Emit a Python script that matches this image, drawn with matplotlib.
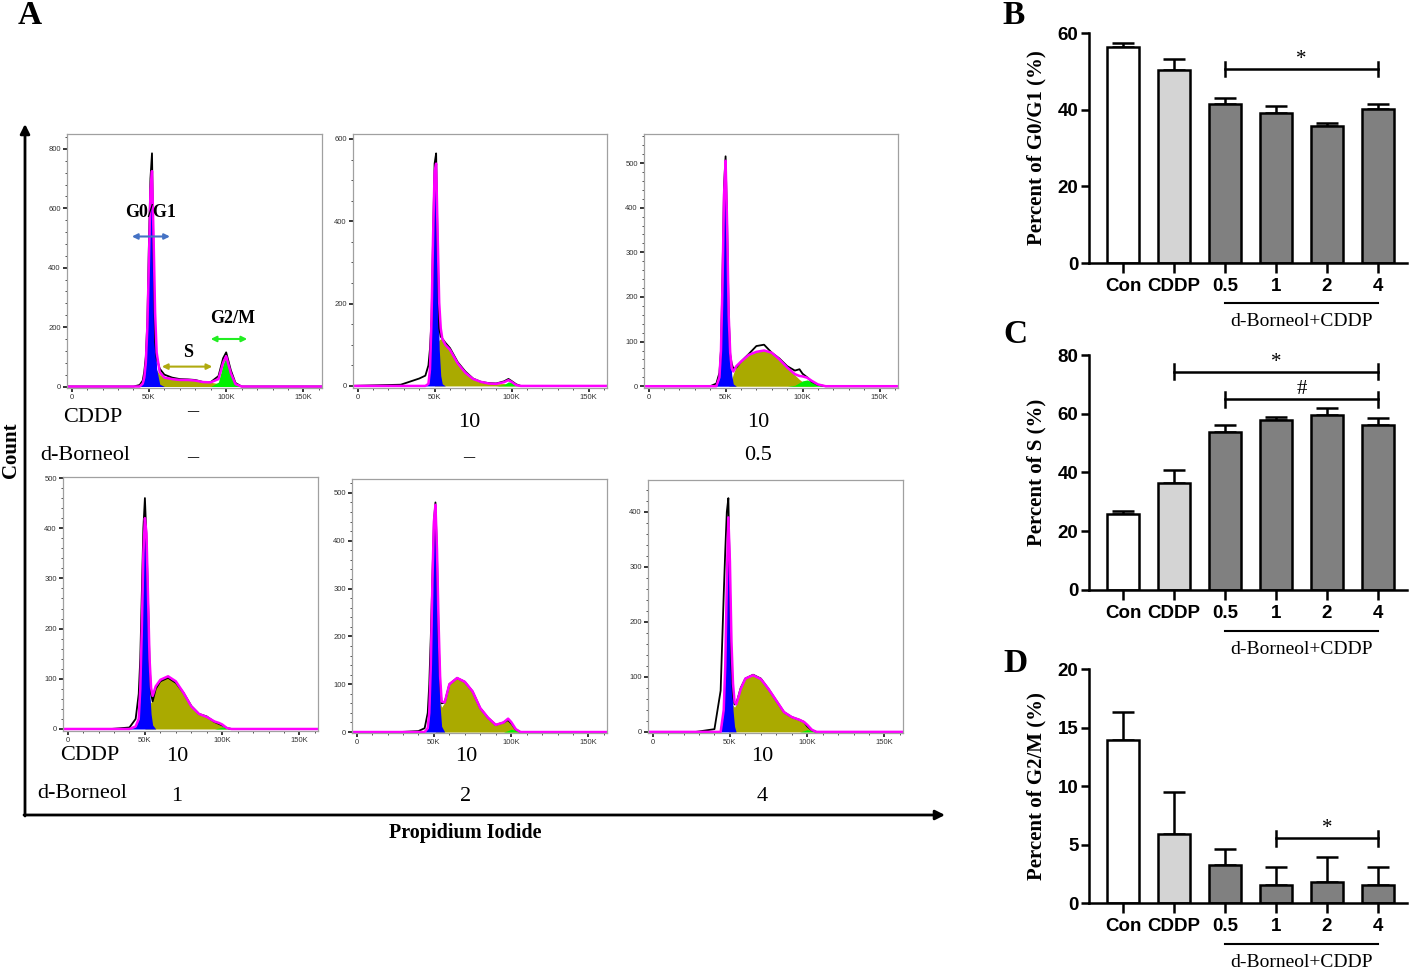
import numpy as np
import matplotlib.pyplot as plt
import matplotlib.transforms as mtransforms
from matplotlib.ticker import MultipleLocator, FuncFormatter

W, H = 1418, 972
SERIF = 'Liberation Serif'
SANS = 'Liberation Sans'

# ---- flow cytometry histograms (PI channel, x1000) ----
pi_k = [-5, 28, 40, 44, 46, 47, 48, 49, 50, 51, 52, 53, 54, 55, 57, 60,
        65, 70, 75, 80, 85, 90, 95, 98, 100, 103, 106, 110, 115, 120, 165]

# Con
count_1 = [0, 0, 0, 5, 20, 50, 100, 220, 480, 700, 785, 430, 150, 95, 60, 40,
           30, 25, 24, 22, 15, 15, 35, 95, 115, 55, 12, 0, 0, 0, 0]
g1_1 = [0, 0, 0, 0, 10, 30, 80, 200, 420, 620, 640, 420, 180, 60, 8] + [0] * 16
s_1 = [0] * 9 + [40, 85, 85, 70, 55, 40, 30, 25, 22, 22, 20, 15, 14, 10, 5, 2] + [0] * 6
g2_1 = [0] * 22 + [15, 75, 100, 45, 8, 0, 0, 0, 0]

# CDDP 10
count_2 = [0, 3, 18, 25, 50, 90, 160, 360, 540, 565, 330, 140, 120, 115, 105, 92,
           58, 35, 18, 10, 7, 6, 11, 17, 12, 4, 0, 0, 0, 0, 0]
g1_2 = [0, 0, 0, 0, 5, 40, 160, 360, 520, 480, 260, 90, 25, 5] + [0] * 17
s_2 = [0] * 9 + [60, 105, 112, 115, 110, 100, 88, 55, 32, 17, 10, 6, 5, 6, 4, 2, 0] + [0] * 5
g2_2 = [0] * 22 + [3, 10, 8, 2, 0, 0, 0, 0, 0]

# CDDP 10 + d-Borneol 0.5
count_3 = [0, 0, 0, 6, 30, 80, 250, 450, 515, 360, 160, 70, 50, 40, 42, 55,
           72, 90, 93, 75, 62, 45, 35, 38, 28, 20, 10, 3, 0, 0, 0]
g1_3 = [0, 0, 0, 0, 20, 80, 230, 430, 505, 360, 160, 70, 25, 5] + [0] * 17
s_3 = [0] * 11 + [5, 15, 28, 45, 55, 70, 77, 80, 75, 60, 42, 25, 15, 10, 5, 2, 0, 0] + [0] * 2
g2_3 = [0] * 22 + [2, 8, 12, 14, 10, 4, 0, 0, 0]

# CDDP 10 + d-Borneol 1
count_4 = [0, 0, 3, 20, 70, 140, 270, 400, 460, 380, 260, 130, 70, 55, 80, 95,
           102, 92, 72, 46, 30, 25, 14, 10, 7, 2, 0, 0, 0, 0, 0]
g1_4 = [0, 0, 0, 5, 20, 80, 200, 350, 420, 350, 200, 80, 30, 8] + [0] * 17
s_4 = [0] * 9 + [40, 65, 60, 52, 58, 85, 98, 105, 95, 72, 45, 30, 24, 15, 10, 5, 0] + [0] * 5
g2_4 = [0] * 23 + [2, 4, 2, 0, 0, 0, 0, 0]

# CDDP 10 + d-Borneol 2
count_5 = [0, 0, 2, 8, 40, 100, 200, 320, 440, 480, 370, 200, 100, 60, 62, 100,
           113, 105, 85, 50, 30, 15, 20, 25, 18, 5, 0, 0, 0, 0, 0]
g1_5 = [0, 0, 0, 0, 8, 40, 140, 310, 440, 475, 340, 160, 55, 12] + [0] * 17
s_5 = [0] * 10 + [40, 70, 62, 52, 62, 100, 113, 105, 85, 50, 30, 15, 20, 25, 15, 3, 0] + [0] * 4
g2_5 = [0] * 23 + [3, 6, 3, 0, 0, 0, 0, 0]

# CDDP 10 + d-Borneol 4
count_6 = [0, 0, 5, 75, 250, 330, 400, 425, 270, 120, 65, 50, 52, 60, 80, 97,
           104, 97, 78, 57, 36, 27, 22, 18, 10, 3, 0, 0, 0, 0, 0]
g1_6 = [0, 0, 0, 0, 40, 120, 270, 390, 270, 110, 40, 10] + [0] * 19
s_6 = [0] * 8 + [40, 55, 48, 45, 50, 58, 78, 97, 103, 96, 78, 57, 36, 27, 22, 16, 9, 2, 0] + [0] * 4
g2_6 = [0] * 23 + [2, 4, 2, 0, 0, 0, 0, 0]

cddp_dose = ['–', '10', '10', '10', '10', '10']
borneol_dose = ['–', '–', '0.5', '1', '2', '4']

# ---- bar charts ----
groups = ['Con', 'CDDP', '0.5', '1', '2', '4']
g0g1_mean = [56.3, 50.3, 41.5, 39.0, 35.7, 40.2]
g0g1_sd = [1.0, 2.8, 1.5, 2.0, 0.8, 1.2]
s_mean = [25.8, 36.5, 53.7, 57.8, 59.5, 56.1]
s_sd = [1.1, 4.3, 2.3, 1.1, 2.3, 2.3]
g2m_mean = [13.96, 5.9, 3.27, 1.5, 1.8, 1.5]
g2m_sd = [2.4, 3.6, 1.35, 1.55, 2.1, 1.55]

BLUE, OLIVE, GREEN, MAGENTA = '#0000ff', '#aaaa00', '#00f000', '#ff00ff'
bar_colors = ['white', '#d4d4d4', '#808080', '#808080', '#808080', '#808080']

fig = plt.figure(figsize=(W / 100, H / 100), dpi=100)


def px_rect(left, top, right, bottom):
    return [left / W, 1 - bottom / H, (right - left) / W, (bottom - top) / H]


# background layer in pixel coordinates for the frame arrows and labels
bg = fig.add_axes([0, 0, 1, 1])
bg.set_xlim(0, W)
bg.set_ylim(H, 0)
bg.axis('off')


def flow_panel(rect, counts, g1, s, g2, ylim, ymajor, yminor):
    ax = fig.add_axes(px_rect(*rect))
    x = np.array(pi_k)
    g1, s, g2 = np.array(g1), np.array(s), np.array(g2)
    ax.fill_between(x, 0, s, color=OLIVE, lw=0)
    ax.fill_between(x, 0, g2, color=GREEN, lw=0)
    ax.fill_between(x, 0, g1, color=BLUE, lw=0)
    ax.plot(x, counts, color='black', lw=1.3)
    ax.plot(x, g1 + s + g2, color=MAGENTA, lw=1.8)
    ax.set_xlim(-3, 162)
    ax.set_ylim(*ylim)
    ax.xaxis.set_major_locator(MultipleLocator(50))
    ax.xaxis.set_minor_locator(MultipleLocator(10))
    ax.xaxis.set_major_formatter(FuncFormatter(lambda v, p: '0' if v == 0 else f'{int(v)}K'))
    ax.yaxis.set_major_locator(MultipleLocator(ymajor))
    ax.yaxis.set_minor_locator(MultipleLocator(yminor))
    ax.tick_params(which='major', length=3, width=1.1, labelsize=5.5, pad=1.5,
                   colors='black', labelcolor='#333333')
    ax.tick_params(which='minor', length=1.6, width=0.6, color='#333333')
    for t in ax.get_xticklabels() + ax.get_yticklabels():
        t.set_fontfamily(SANS)
    for sp in ax.spines.values():
        sp.set_color('#a0a0a0')
        sp.set_linewidth(0.9)
    return ax


flow_rects = [(67, 134, 322, 388), (353, 134, 607, 388), (644, 134, 898, 388),
              (63, 477, 318, 731), (352, 479, 607, 733), (648, 480, 903, 733)]
flow_ylims = [(-5, 850), (-5, 612), (-4, 565), (-4, 502), (-2, 529), (-2, 458)]
flow_ticks = [(200, 40), (200, 50), (100, 20), (100, 20), (100, 20), (100, 20)]
flow_data = [(count_1, g1_1, s_1, g2_1), (count_2, g1_2, s_2, g2_2),
             (count_3, g1_3, s_3, g2_3), (count_4, g1_4, s_4, g2_4),
             (count_5, g1_5, s_5, g2_5), (count_6, g1_6, s_6, g2_6)]

flow_axes = []
for rect, lim, tk, d in zip(flow_rects, flow_ylims, flow_ticks, flow_data):
    flow_axes.append(flow_panel(rect, *d, lim, *tk))

# phase annotations on the control histogram
a0 = flow_axes[0]
ann = dict(fontfamily=SERIF, fontweight='bold', fontsize=13, ha='center', va='center')
a0.text(51.3, 586, 'G0/G1', **ann)
a0.text(75.3, 114, 'S', **ann)
a0.text(104, 228, 'G2/M', **ann)
for x0, x1, yy, col in [(39, 63.6, 505, '#4472c4'), (58.4, 91, 67, '#b0aa10'),
                        (90, 113.6, 160, '#22ee22')]:
    a0.annotate('', xy=(x1, yy), xytext=(x0, yy),
                arrowprops=dict(arrowstyle='<|-|>', color=col, lw=1.5,
                                mutation_scale=8, shrinkA=0, shrinkB=0))

# frame arrows, axis titles and treatment labels
arr = dict(arrowstyle='-|>', lw=2, color='black', mutation_scale=14, shrinkA=0, shrinkB=0)
bg.annotate('', xy=(25, 124), xytext=(25, 816), arrowprops=arr)
bg.annotate('', xy=(945, 815), xytext=(24, 815), arrowprops=arr)
bg.text(11, 450, 'Count', rotation=90, fontfamily=SERIF, fontweight='bold',
        fontsize=15, ha='center', va='center')
bg.text(465, 833, 'Propidium Iodide', fontfamily=SERIF, fontweight='bold',
        fontsize=14.5, ha='center', va='center')
lab = dict(fontfamily=SERIF, fontsize=16, ha='center', va='center')
bg.text(93, 417, 'CDDP', **lab)
bg.text(85, 455, 'd-Borneol', **lab)
bg.text(90, 755, 'CDDP', **lab)
bg.text(82, 793, 'd-Borneol', **lab)
dose_x = [193, 469, 758, 177, 466, 762]
for i in range(6):
    top = i < 3
    cy = 417 if top else 756
    by = 455 if top else 796
    if cddp_dose[i] == '–':
        cy -= 5
    elif top:
        cy += 5
    if borneol_dose[i] == '–':
        by += 3
    bg.text(dose_x[i], cy, cddp_dose[i], **lab)
    bg.text(dose_x[i], by, borneol_dose[i], **lab)

panel_lab = dict(fontfamily=SERIF, fontweight='bold', fontsize=24, ha='center', va='center')
bg.text(30, 15, 'A', **panel_lab)
bg.text(1014, 16, 'B', **panel_lab)
bg.text(1015, 334, 'C', **panel_lab)
bg.text(1015, 663, 'D', **panel_lab)


def bar_panel(rect, means, sds, ymax, ystep, ylabel, sigs):
    ax = fig.add_axes(px_rect(*rect))
    x = np.arange(len(groups))
    ax.bar(x, means, width=0.62, color=bar_colors, edgecolor='black', linewidth=1.8, zorder=2)
    ax.errorbar(x, means, yerr=[np.zeros(len(sds)), sds], fmt='none', ecolor='black',
                elinewidth=1.8, capsize=8, capthick=1.8, zorder=1)
    ax.set_xlim(-0.67, 5.57)
    ax.set_ylim(0, ymax)
    ax.set_yticks(np.arange(0, ymax + 0.1, ystep))
    ax.set_xticks(x)
    ax.set_xticklabels(groups)
    for sp in ['top', 'right']:
        ax.spines[sp].set_visible(False)
    for sp in ['left', 'bottom']:
        ax.spines[sp].set_linewidth(1.8)
    ax.tick_params(axis='x', length=7, width=1.8, pad=4, labelsize=13.5)
    ax.tick_params(axis='y', length=5.5, width=1.8, pad=2, labelsize=13.5)
    for t in ax.get_xticklabels() + ax.get_yticklabels():
        t.set_fontfamily(SANS)
        t.set_fontweight('bold')
    ax.set_ylabel(ylabel, fontfamily=SERIF, fontweight='bold', fontsize=15)
    ax.yaxis.set_label_coords(-0.135, 0.5)
    cap = 0.032 * ymax
    for i0, i1, yy, mark in sigs:
        ax.plot([i0, i1], [yy, yy], color='black', lw=1.8)
        ax.plot([i0, i0], [yy - cap, yy + cap], color='black', lw=1.8)
        ax.plot([i1, i1], [yy - cap, yy + cap], color='black', lw=1.8)
        ax.text((i0 + i1) / 2, yy, mark, fontfamily=SERIF, fontsize=15,
                ha='center', va='bottom')
    tr = mtransforms.blended_transform_factory(ax.transData, ax.transAxes)
    ax.plot([2, 5], [-0.175, -0.175], color='black', lw=1.5, transform=tr, clip_on=False)
    ax.text(3.5, -0.255, 'd-Borneol+CDDP', transform=tr, fontfamily=SERIF, fontsize=14,
            ha='center', va='center')
    return ax


bar_panel((1089, 33, 1407, 263), g0g1_mean, g0g1_sd, 60, 20, 'Percent of G0/G1 (%)',
          [(2, 5, 50.6, '*')])
bar_panel((1089, 355, 1407, 590), s_mean, s_sd, 80, 20, 'Percent of S (%)',
          [(1, 5, 74.3, '*'), (2, 5, 64.9, '#')])
bar_panel((1089, 669, 1407, 903), g2m_mean, g2m_sd, 20, 5, 'Percent of G2/M (%)',
          [(3, 5, 5.55, '*')])

fig.savefig('out.png', dpi=100)
